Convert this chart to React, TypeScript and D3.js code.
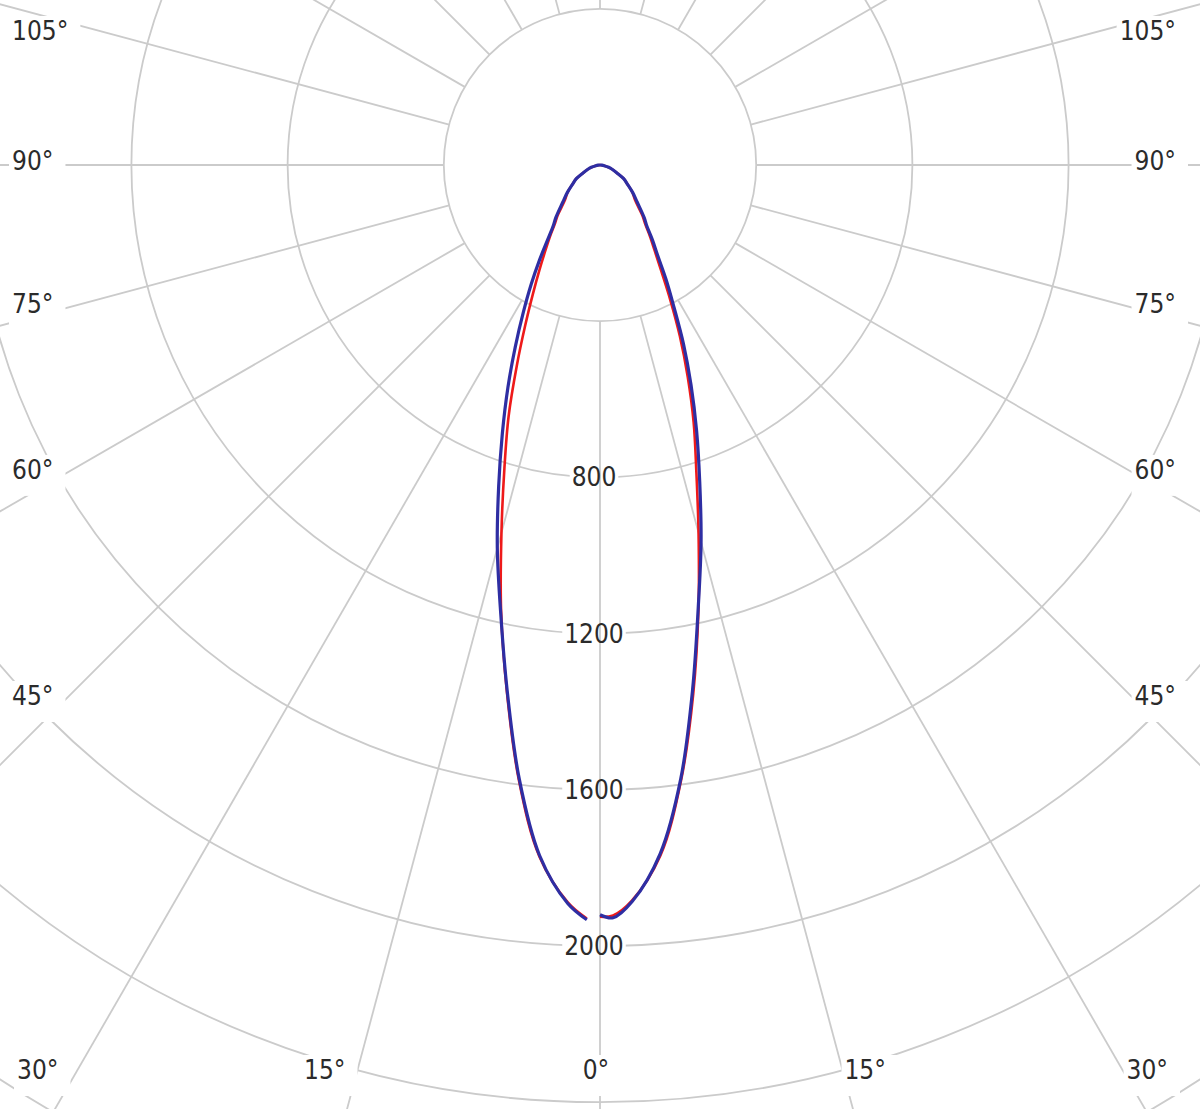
import React, { useEffect, useRef } from 'react';
import * as d3 from 'd3';

// ---------- data ----------
const ringValues = [400, 800, 1200, 1600, 2000, 2400, 2800, 3200];
const ringLabelValues = [800, 1200, 1600, 2000];
const spokeAngles = d3.range(0, 360, 15);
const angleLabelValues = [0, 15, 30, 45, 60, 75, 90, 105];

// right half (C0 red, C90 blue)
const anglesRight = [0, 1, 2.5, 5, 7.5, 10, 12.5, 15, 17.5, 20, 22.5, 25, 27.5, 30, 32.5, 35, 37.5, 40, 45, 50, 55, 60, 65, 70, 75, 80, 85, 90];
const c0Right = [1925, 1922, 1885, 1775, 1590, 1375, 1165, 975, 820, 701, 587, 484, 390, 314, 261, 223, 190, 169, 127, 108, 86, 70, 48, 34, 23, 11, 5, 0];
const c90Right = [1920, 1928, 1888, 1770, 1585, 1365, 1162, 1000, 849, 723, 609, 506, 410, 338, 275, 234, 197, 176, 135, 109, 86, 70, 48, 34, 23, 11, 5, 0];

// left half (C180 red, C270 blue)
const anglesLeft = [1, 2.5, 5, 7.5, 10, 12.5, 15, 17.5, 20, 22.5, 25, 27.5, 30, 32.5, 35, 37.5, 40, 45, 50, 55, 60, 65, 70, 75, 80, 85, 90];
const c180Left = [1930, 1890, 1778, 1590, 1372, 1170, 975, 814, 684, 557, 453, 372, 310, 261, 223, 190, 169, 127, 108, 86, 70, 48, 34, 23, 11, 5, 0];
const c270Left = [1933, 1893, 1775, 1585, 1368, 1175, 1016, 863, 731, 616, 513, 425, 352, 288, 234, 197, 176, 135, 109, 86, 70, 48, 34, 23, 11, 5, 0];

// ---------- layout ----------
const W = 1200;
const H = 1109;
const CX = 600;
const CY = 165;
const GRID = '#cbcbcb';
const TEXT = '#2b2b2b';
const RED = '#ee1a1a';
const BLUE = '#2e2ea3';
const FONT = '"DejaVu Sans Condensed", "DejaVu Sans", Verdana, sans-serif';

export default function App() {
  const ref = useRef<SVGSVGElement | null>(null);

  useEffect(() => {
    const svg = d3.select(ref.current);
    svg.selectAll('*').remove();

    const r = d3.scaleLinear().domain([0, 2000]).range([0, 781]);
    const rad = (a: number) => (a * Math.PI) / 180;
    const pt = (a: number, v: number, side: number): [number, number] => [
      CX + side * r(v) * Math.sin(rad(a)),
      CY + r(v) * Math.cos(rad(a)),
    ];

    svg.append('rect').attr('width', W).attr('height', H).attr('fill', '#fff');

    const gRings = svg.append('g');
    const gRingBg = svg.append('g');
    const gSpokes = svg.append('g');
    const gAngleBg = svg.append('g');
    const gCurves = svg.append('g');
    const gText = svg.append('g');

    // rings
    gRings
      .selectAll('circle')
      .data(ringValues)
      .join('circle')
      .attr('cx', CX)
      .attr('cy', CY)
      .attr('r', (d) => r(d))
      .attr('fill', 'none')
      .attr('stroke', GRID)
      .attr('stroke-width', 1.8);

    // spokes
    gSpokes
      .selectAll('line')
      .data(spokeAngles)
      .join('line')
      .attr('x1', (a) => pt(a, 400, 1)[0])
      .attr('y1', (a) => pt(a, 400, 1)[1])
      .attr('x2', (a) => pt(a, 4000, 1)[0])
      .attr('y2', (a) => pt(a, 4000, 1)[1])
      .attr('stroke', GRID)
      .attr('stroke-width', 1.8);

    const styleText = (sel: any) =>
      sel
        .attr('font-family', FONT)
        .attr('font-stretch', 'condensed')
        .attr('font-size', 26)
        .attr('fill', TEXT)
        .attr('dominant-baseline', 'central');

    // ring labels
    ringLabelValues.forEach((v) => {
      const t = gText
        .append('text')
        .attr('x', CX - 6)
        .attr('y', CY + r(v))
        .attr('text-anchor', 'middle')
        .text(String(v));
      styleText(t);
      const bb = (t.node() as SVGTextElement).getBBox();
      gRingBg
        .append('rect')
        .attr('x', bb.x - 2)
        .attr('y', bb.y + 2)
        .attr('width', bb.width + 4)
        .attr('height', bb.height - 4)
        .attr('fill', '#fff');
    });

    // angle labels
    const BOTTOM = 1070;
    const TOP = 31;
    const INSET = 535;
    const LEFT = 12;
    const RIGHT = 1176;
    const labelPos = (a: number, side: number) => {
      const t = rad(a);
      if (a <= 15) {
        const x = CX + side * (BOTTOM - CY) * Math.tan(t);
        if (a === 0) return { x: x - 4, y: BOTTOM, anchor: 'middle' };
        return side < 0
          ? { x: x - 12, y: BOTTOM, anchor: 'end' }
          : { x: x + 2, y: BOTTOM, anchor: 'start' };
      }
      const yHit = CY + (INSET * Math.cos(t)) / Math.sin(t) - 4;
      const clamped = yHit > BOTTOM;
      const y = Math.max(TOP, Math.min(BOTTOM, yHit));
      return side < 0
        ? { x: LEFT + (clamped ? 5 : 0), y, anchor: 'start' }
        : { x: RIGHT - (clamped ? 8 : 0), y, anchor: 'end' };
    };

    angleLabelValues.forEach((a) => {
      const sides = a === 0 ? [0] : [-1, 1];
      sides.forEach((s) => {
        const p = labelPos(a, s);
        const t = gText
          .append('text')
          .attr('x', p.x)
          .attr('y', p.y)
          .attr('text-anchor', p.anchor)
          .text(`${a}°`);
        styleText(t);
        const bb = (t.node() as SVGTextElement).getBBox();
        gAngleBg
          .append('rect')
          .attr('x', bb.x - 3)
          .attr('y', bb.y)
          .attr('width', bb.width + 15)
          .attr('height', bb.height + 11)
          .attr('fill', '#fff');
      });
    });

    // curves
    const line = d3
      .line<[number, number]>()
      .x((d) => d[0])
      .y((d) => d[1])
      .curve(d3.curveCatmullRom.alpha(0.5));

    const series = [
      { angles: anglesRight, values: c0Right, side: 1, color: RED, w: 2.6 },
      { angles: anglesLeft, values: c180Left, side: -1, color: RED, w: 2.6 },
      { angles: anglesRight, values: c90Right, side: 1, color: BLUE, w: 3.2 },
      { angles: anglesLeft, values: c270Left, side: -1, color: BLUE, w: 3.2 },
    ];
    series.forEach((s) => {
      const pts = s.angles.map((a, i) => pt(a, s.values[i], s.side));
      gCurves
        .append('path')
        .attr('d', line(pts) as string)
        .attr('fill', 'none')
        .attr('stroke', s.color)
        .attr('stroke-width', s.w)
        .attr('stroke-linejoin', 'round');
    });
  }, []);

  return (
    <svg
      ref={ref}
      width={W}
      height={H}
      viewBox={`0 0 ${W} ${H}`}
      style={{ position: 'absolute', left: 0, top: 0, display: 'block', background: '#fff' }}
    />
  );
}
